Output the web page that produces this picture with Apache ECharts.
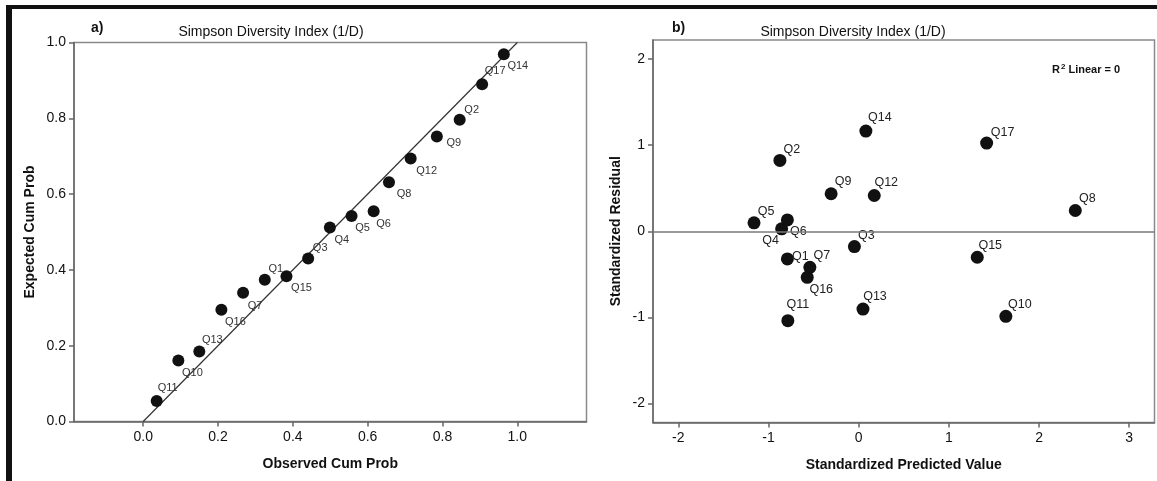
<!DOCTYPE html>
<html>
<head>
<meta charset="utf-8">
<title>Simpson Diversity Index (1/D)</title>
<script src="https://cdn.jsdelivr.net/npm/echarts@6/dist/echarts.min.js"></script>
<style>
  html, body { margin: 0; padding: 0; background: #ffffff; }
  #chart { width: 1157px; height: 481px; }
</style>
</head>
<body>
<div id="chart"></div>
<script>
// ---- a) P-P plot: observed vs expected cumulative probability ----
const ppNames    = ['Q11','Q10','Q13','Q16','Q7','Q1','Q15','Q3','Q4','Q5','Q6','Q8','Q12','Q9','Q2','Q17','Q14'];
const ppObserved = [0.036,0.094,0.150,0.209,0.267,0.325,0.383,0.441,0.499,0.557,0.616,0.657,0.715,0.785,0.846,0.906,0.964];
const ppExpected = [0.054,0.161,0.185,0.295,0.340,0.374,0.383,0.430,0.512,0.542,0.555,0.631,0.694,0.752,0.796,0.890,0.969];
const ppDiagonal = [[0, 0], [1, 1]];
const ppTicks    = [0.0, 0.2, 0.4, 0.6, 0.8, 1.0];

// ---- b) standardized residual vs standardized predicted value ----
const resNames     = ['Q1','Q2','Q3','Q4','Q5','Q6','Q7','Q8','Q9','Q10','Q11','Q12','Q13','Q14','Q15','Q16','Q17'];
const resPredicted = [-0.79,-0.873,-0.047,-0.854,-1.16,-0.79,-0.541,2.402,-0.305,1.632,-0.785,0.173,0.048,0.08,1.315,-0.570,1.419];
const resResidual  = [-0.321,0.822,-0.178,0.028,0.098,0.132,-0.419,0.241,0.435,-0.988,-1.038,0.415,-0.903,1.163,-0.302,-0.535,1.023];
const resXTicks    = [-2, -1, 0, 1, 2, 3];
const resYTicks    = [-2, -1, 0, 1, 2];

const chartTitle = 'Simpson Diversity Index (1/D)';

// label placement around each point (pixels from point centre)
const ppLabelShift = {
  Q11:[11,-13], Q10:[14,12], Q13:[13,-11], Q16:[14,12], Q7:[12,13], Q1:[11,-11],
  Q15:[15,12], Q3:[12,-11], Q4:[12,13], Q5:[11,12], Q6:[10,13], Q8:[15,12],
  Q12:[16,12], Q9:[17,6], Q2:[12,-10], Q17:[13,-13], Q14:[14,12]
};
const resLabelShift = {
  Q1:[13,-2], Q2:[12,-11], Q3:[12,-11], Q4:[-11,12], Q5:[12,-11], Q6:[11,12],
  Q7:[12,-12], Q8:[12,-12], Q9:[12,-12], Q10:[14,-12], Q11:[10,-16], Q12:[12,-13],
  Q13:[12,-12], Q14:[14,-14], Q15:[13,-12], Q16:[14,12], Q17:[16,-11]
};

const FONT = '"Liberation Sans", Arial, sans-serif';
const TXT = '#111111';
const FRAME = '#8a8a8a';
const AXIS = '#666666';

function points(names, xs, ys, shifts) {
  return names.map((n, i) => ({
    name: n,
    value: [xs[i], ys[i]],
    label: { offset: shifts[n] || [12, -12] }
  }));
}

function valueAxis(gridIndex, min, max, ticks, fmt, name, nameGap, labelMargin) {
  return {
    type: 'value',
    gridIndex, min, max, name, nameGap,
    nameLocation: 'middle',
    nameTextStyle: { color: TXT, fontFamily: FONT, fontSize: 14, fontWeight: 'bold' },
    splitLine: { show: false },
    axisLine: { show: true, onZero: false, lineStyle: { color: AXIS, width: 1.5 } },
    axisTick: { show: true, length: 5, customValues: ticks, lineStyle: { color: AXIS, width: 1.5 } },
    axisLabel: { color: TXT, fontFamily: FONT, fontSize: 14, margin: labelMargin, customValues: ticks, formatter: fmt }
  };
}

const chart = echarts.init(document.getElementById('chart'), null, { renderer: 'canvas' });

const option = {
  animation: false,
  backgroundColor: '#ffffff',
  textStyle: { fontFamily: FONT },
  grid: [
    { left: 74, top: 42.5, width: 512.5, height: 379, show: true, borderColor: FRAME, borderWidth: 1.5, backgroundColor: 'transparent' },
    { left: 653, top: 40, width: 501.5, height: 382.5, show: true, borderColor: FRAME, borderWidth: 1.5, backgroundColor: 'transparent' }
  ],
  xAxis: [
    valueAxis(0, -0.185, 1.185, ppTicks, v => v.toFixed(1), 'Observed Cum Prob', 36, 9),
    valueAxis(1, -2.28, 3.28, resXTicks, v => String(v), 'Standardized Predicted Value', 36, 9)
  ],
  yAxis: [
    valueAxis(0, 0, 1.0, ppTicks, v => v.toFixed(1), 'Expected Cum Prob', 37, 8),
    valueAxis(1, -2.22, 2.22, resYTicks, v => String(v), 'Standardized Residual', 30, 8)
  ],
  series: [
    {
      type: 'line',
      xAxisIndex: 0, yAxisIndex: 0,
      data: ppDiagonal,
      symbol: 'none',
      lineStyle: { color: '#333333', width: 1.2 },
      silent: true,
      z: 1
    },
    {
      type: 'scatter',
      xAxisIndex: 0, yAxisIndex: 0,
      symbolSize: 12,
      itemStyle: { color: '#111111', opacity: 1 },
      label: {
        show: true, position: 'inside', formatter: '{b}',
        align: 'center', verticalAlign: 'middle',
        color: '#333333', fontFamily: FONT, fontSize: 11
      },
      data: points(ppNames, ppObserved, ppExpected, ppLabelShift),
      z: 3
    },
    {
      type: 'scatter',
      xAxisIndex: 1, yAxisIndex: 1,
      symbolSize: 13,
      itemStyle: { color: '#111111', opacity: 1 },
      label: {
        show: true, position: 'inside', formatter: '{b}',
        align: 'center', verticalAlign: 'middle',
        color: '#222222', fontFamily: FONT, fontSize: 12.5
      },
      data: points(resNames, resPredicted, resResidual, resLabelShift),
      markLine: {
        silent: true,
        symbol: 'none',
        label: { show: false },
        lineStyle: { color: '#7a7a7a', width: 1.5, type: 'solid' },
        data: [{ yAxis: 0 }]
      },
      z: 3
    }
  ],
  graphic: [
    // page frame strips
    { type: 'rect', left: 6, top: 5, shape: { width: 1151, height: 4 }, style: { fill: '#111111' }, silent: true },
    { type: 'rect', left: 6, top: 5, shape: { width: 6, height: 476 }, style: { fill: '#111111' }, silent: true },
    // panel letters and titles
    { type: 'text', x: 91, y: 28, style: { text: 'a)', font: 'bold 14px ' + FONT, fill: TXT, verticalAlign: 'middle' } },
    { type: 'text', x: 271, y: 32, style: { text: chartTitle, font: '14px ' + FONT, fill: TXT, align: 'center', verticalAlign: 'middle' } },
    { type: 'text', x: 672, y: 28, style: { text: 'b)', font: 'bold 14px ' + FONT, fill: TXT, verticalAlign: 'middle' } },
    { type: 'text', x: 853, y: 32, style: { text: chartTitle, font: '14px ' + FONT, fill: TXT, align: 'center', verticalAlign: 'middle' } },
    // fit statistic
    {
      type: 'text', x: 1052, y: 70,
      style: {
        text: '{r|R}{s|2}{r| Linear = 0}',
        verticalAlign: 'middle',
        rich: {
          r: { font: 'bold 11px ' + FONT, fill: TXT },
          s: { font: 'bold 8px ' + FONT, fill: TXT, verticalAlign: 'top', padding: [0, 0, 6, 1] }
        }
      }
    }
  ]
};

chart.setOption(option);
</script>
</body>
</html>
